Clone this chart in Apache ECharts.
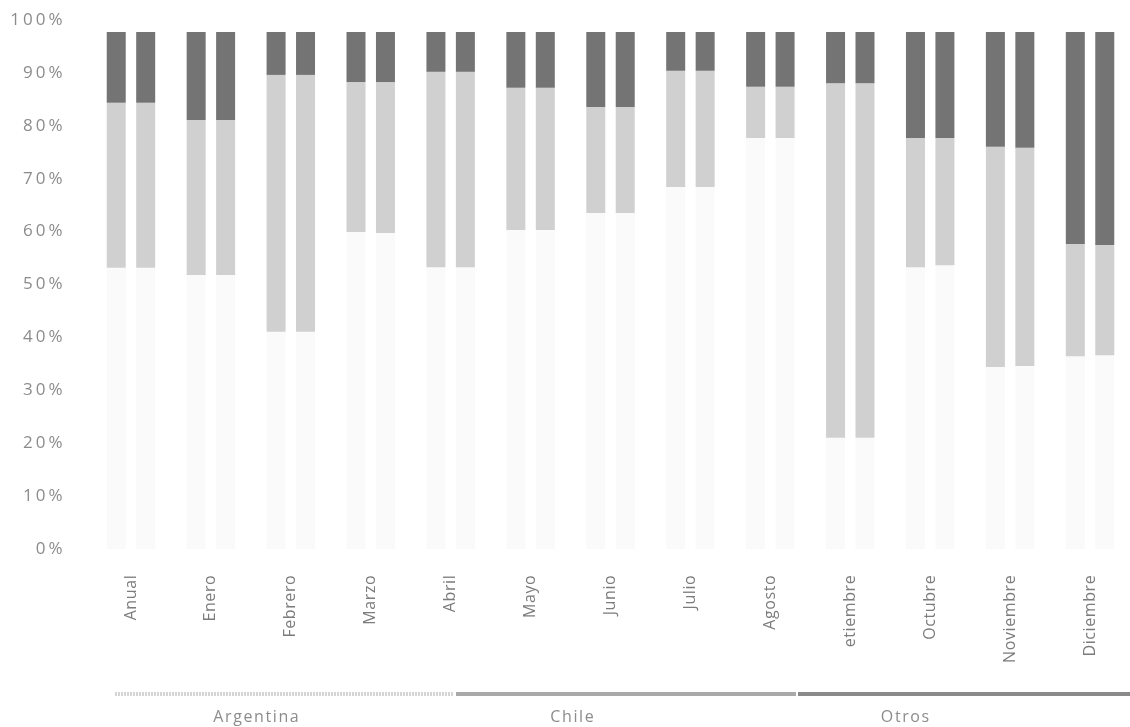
<!DOCTYPE html>
<html>
<head>
<meta charset="utf-8">
<script src="https://cdn.jsdelivr.net/npm/echarts@6/dist/echarts.min.js"></script>
<style>
html,body{margin:0;padding:0;background:#fff;}
#chart{width:1130px;height:727px;}
</style>
</head>
<body>
<div id="chart"></div>
<script>
// ---- data ----
const categories = ['Anual','Enero','Febrero','Marzo','Abril','Mayo','Junio','Julio','Agosto','etiembre','Octubre','Noviembre','Diciembre'];
const seriesNames = ['Argentina','Chile','Otros'];
// first bar of each pair
const argentinaA = [54.4, 53.0, 42.0, 61.3, 54.5, 61.7, 65.0, 70.0, 79.5, 21.5, 54.5, 35.2, 37.3];
const chileA     = [31.9, 30.0, 49.7, 29.0, 37.8, 27.5, 20.5, 22.5,  9.9, 68.6, 25.0, 42.6, 21.7];
const otrosA     = [13.7, 17.0,  8.3,  9.7,  7.7, 10.8, 14.5,  7.5, 10.6,  9.9, 20.5, 22.2, 41.0];
// second bar of each pair
const argentinaB = [54.4, 53.0, 42.0, 61.1, 54.5, 61.7, 65.0, 70.0, 79.5, 21.5, 54.9, 35.4, 37.5];
const chileB     = [31.9, 30.0, 49.7, 29.2, 37.8, 27.5, 20.5, 22.5,  9.9, 68.6, 24.6, 42.2, 21.3];
const otrosB     = [13.7, 17.0,  8.3,  9.7,  7.7, 10.8, 14.5,  7.5, 10.6,  9.9, 20.5, 22.4, 41.2];
const yTickValues = [0,10,20,30,40,50,60,70,80,90,100];

// ---- styles ----
const colors = ['#fafafa', '#d0d0d0', '#747474'];
const legendLine = ['#d4d4d4', '#a9a9a9', '#8a8a8a'];
const font = "'Open Sans', sans-serif";
const textColor = '#8c8c8c';

// spread characters apart (the reference text is letter-spaced)
function spaced(str) {
  return String(str).split('').map(c => '{s|' + c + '}').join('');
}

const chart = echarts.init(document.getElementById('chart'), null, {renderer:'canvas'});

function mkSeries(name, data, stack, ci) {
  return {
    name: name, type: 'bar', stack: stack, data: data,
    xAxisIndex: 1, yAxisIndex: 1,
    barWidth: 19, barGap: '55%',
    itemStyle: { color: colors[ci] },
    emphasis: { disabled: true },
    animation: false
  };
}

const series = [
  mkSeries(seriesNames[0], argentinaA, 'A', 0),
  mkSeries(seriesNames[1], chileA, 'A', 1),
  mkSeries(seriesNames[2], otrosA, 'A', 2),
  mkSeries(seriesNames[0], argentinaB, 'B', 0),
  mkSeries(seriesNames[1], chileB, 'B', 1),
  mkSeries(seriesNames[2], otrosB, 'B', 2)
];

// legend drawn as a continuous strip under the chart
const legendSegs = [[115, 454], [456, 796], [798, 1130]];
const legendTextX = [256, 572, 905];
const graphic = [];
seriesNames.forEach((n, i) => {
  graphic.push({
    type: 'line', silent: true,
    shape: { x1: legendSegs[i][0], y1: 694, x2: legendSegs[i][1], y2: 694 },
    style: { stroke: legendLine[i], lineWidth: 4, lineDash: i === 0 ? [2, 1] : null }
  });
  graphic.push({
    type: 'text', silent: true, x: legendTextX[i], y: 717,
    style: {
      text: spaced(n), fill: textColor, align: 'center', verticalAlign: 'middle',
      rich: { s: { fontFamily: font, fontSize: 16, fill: textColor, padding: [0, 0.8, 0, 0.8] } }
    }
  });
});

chart.setOption({
  animation: false,
  backgroundColor: '#fff',
  grid: [
    { left: 91, width: 1040, top: 20, height: 529 },   // label scale
    { left: 91, width: 1040, top: 32, height: 517 }    // bars
  ],
  xAxis: [
    { type: 'category', gridIndex: 0, data: categories, show: false },
    { type: 'category', gridIndex: 1, data: categories,
      axisLine: { show: false }, axisTick: { show: false },
      axisLabel: { rotate: 90, margin: 26, interval: 0, color: '#7c7c7c',
        formatter: v => spaced(v),
        rich: { s: { fontFamily: font, fontSize: 16, color: '#7c7c7c', padding: [0, 0.3, 0, 0.3] } } } }
  ],
  yAxis: [
    { type: 'value', gridIndex: 0, min: yTickValues[0], max: yTickValues[yTickValues.length-1], interval: 10,
      axisLine: { show: false }, axisTick: { show: false }, splitLine: { show: false },
      axisLabel: { margin: 27, color: textColor,
        formatter: v => spaced(v + '%'),
        rich: { s: { fontFamily: font, fontSize: 17, color: textColor, padding: [0, 1.5, 0, 1.5] } } } },
    { type: 'value', gridIndex: 1, min: 0, max: 100, show: false, splitLine: { show: false } }
  ],
  series: series,
  graphic: graphic
});
</script>
</body>
</html>
